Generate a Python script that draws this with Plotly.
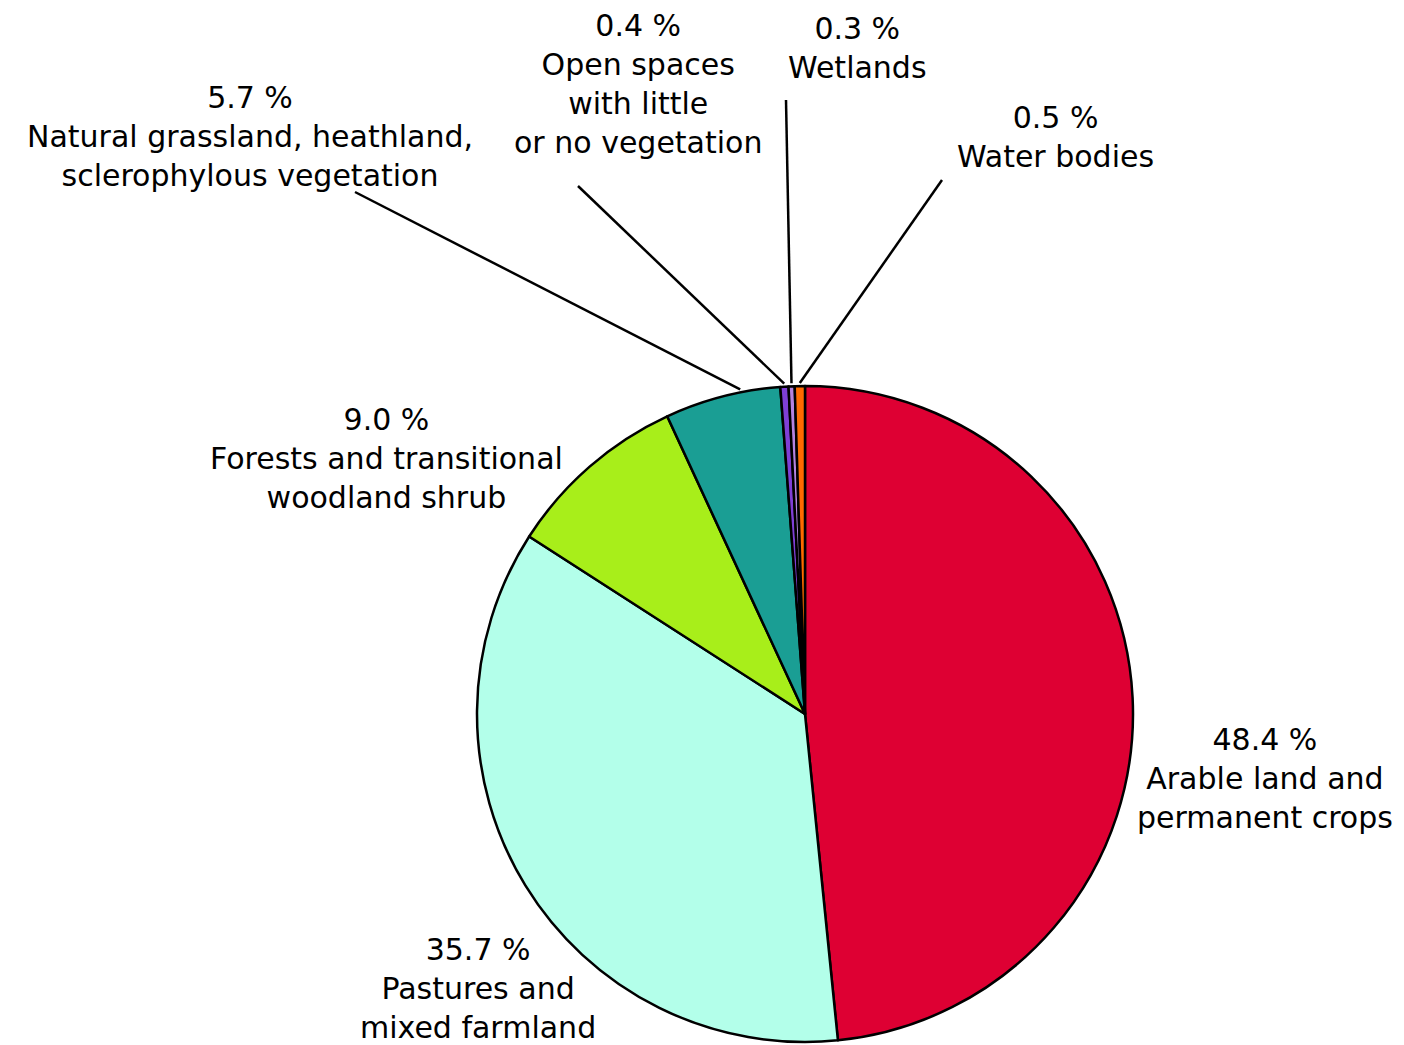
import math
import plotly.graph_objects as go

# ---- data ----
categories = [
    "Arable land and permanent crops",
    "Pastures and mixed farmland",
    "Forests and transitional woodland shrub",
    "Natural grassland, heathland, sclerophylous vegetation",
    "Open spaces with little or no vegetation",
    "Wetlands",
    "Water bodies",
]
shares = [48.4, 35.7, 9.0, 5.7, 0.4, 0.3, 0.5]
label_texts = [
    "48.4 %<br>Arable land and<br>permanent crops",
    "35.7 %<br>Pastures and<br>mixed farmland",
    "9.0 %<br>Forests and transitional<br>woodland shrub",
    "5.7 %<br>Natural grassland, heathland,<br>sclerophylous vegetation",
    "0.4 %<br>Open spaces<br>with little<br>or no vegetation",
    "0.3 %<br>Wetlands",
    "0.5 %<br>Water bodies",
]
colors = ["#DE0033", "#B3FFEA", "#A8EE1A", "#1A9E94", "#7F3FD6", "#B483E0", "#FF6A00"]

# ---- layout (screen pixels) ----
W, H = 1404, 1045
OFF = 8  # page body margin
CX, CY, R = 805, 714, 328
label_pos = [(1265, 778), (478, 988), (386, 458), (250, 136), (638, 84), (857, 48), (1055, 137)]
leader_start = [None, None, None, (355, 192), (578, 186), (786, 100), (942, 180)]
leader_frac = [0.5, 0.5, 0.5, 0.66, 0.5, 0.5, 0.5]


def px(x, y):
    return (x - OFF) / W, 1 - (y - OFF) / H


dx0, dy0 = px(CX - R, CY + R)
dx1, dy1 = px(CX + R, CY - R)

fig = go.Figure(go.Pie(
    labels=categories,
    values=shares,
    sort=False,
    direction="clockwise",
    rotation=0,
    textinfo="none",
    showlegend=False,
    marker=dict(colors=colors, line=dict(color="black", width=2.5)),
    domain=dict(x=[dx0, dx1], y=[dy0, dy1]),
))

total = sum(shares)
cum = 0.0
shapes = []
annotations = []
for i, v in enumerate(shares):
    frac = (cum + v * leader_frac[i]) / total
    cum += v
    ang = 2 * math.pi * frac
    ex = CX + (R + 3) * math.sin(ang)
    ey = CY - (R + 3) * math.cos(ang)
    if leader_start[i] is not None:
        sx, sy = leader_start[i]
        x0, y0 = px(sx, sy)
        x1, y1 = px(ex, ey)
        shapes.append(dict(type="line", xref="paper", yref="paper",
                           x0=x0, y0=y0, x1=x1, y1=y1,
                           line=dict(color="black", width=2.5)))
    lx, ly = px(*label_pos[i])
    annotations.append(dict(text=label_texts[i], x=lx, y=ly, xref="paper", yref="paper",
                            xanchor="center", yanchor="middle", showarrow=False,
                            align="center",
                            font=dict(family="DejaVu Sans", size=30, color="black")))

fig.update_layout(
    width=W, height=H,
    margin=dict(l=0, r=0, t=0, b=0),
    paper_bgcolor="white", plot_bgcolor="white",
    shapes=shapes, annotations=annotations,
)

fig.write_html("out.html")
